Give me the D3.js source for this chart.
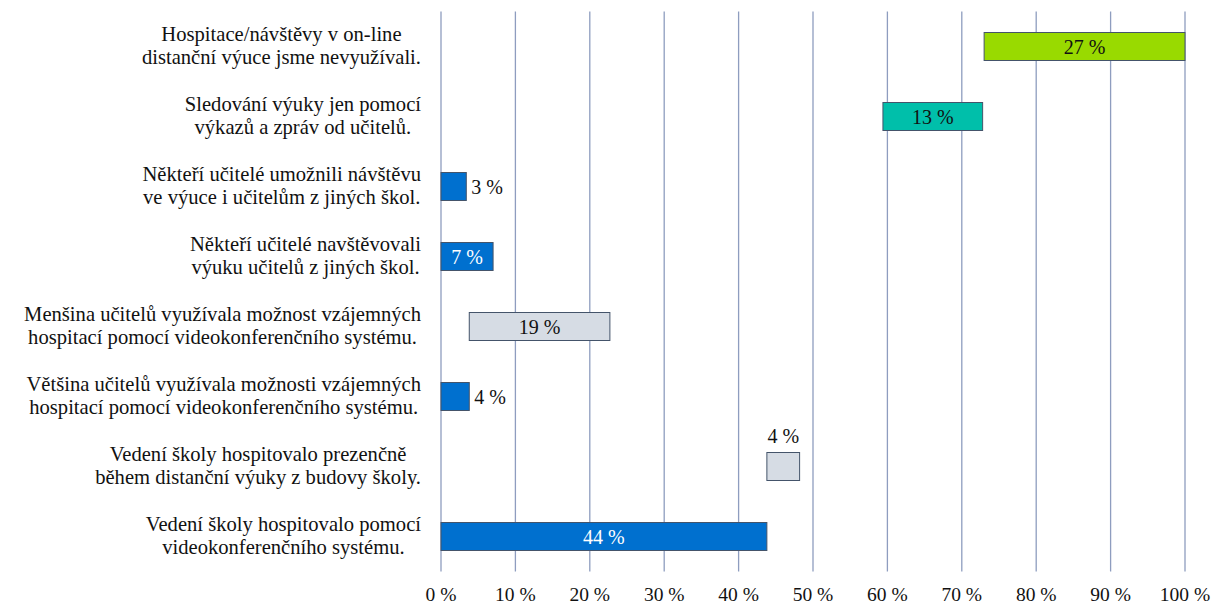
<!DOCTYPE html>
<html>
<head>
<meta charset="utf-8">
<script src="https://cdn.jsdelivr.net/npm/d3@7"></script>
<style>
  body { margin: 0; background: #fff; }
</style>
</head>
<body>
<svg id="chart" width="1219" height="604"></svg>
<script>
// categories, top to bottom
var categories = [
  ["Hospitace/návštěvy v on-line", "distanční výuce jsme nevyužívali."],
  ["Sledování výuky jen pomocí", "výkazů a zpráv od učitelů."],
  ["Někteří učitelé umožnili návštěvu", "ve výuce i učitelům z jiných škol."],
  ["Někteří učitelé navštěvovali", "výuku učitelů z jiných škol."],
  ["Menšina učitelů využívala možnost vzájemných", "hospitací pomocí videokonferenčního systému."],
  ["Většina učitelů využívala možnosti vzájemných", "hospitací pomocí videokonferenčního systému."],
  ["Vedení školy hospitovalo prezenčně", "během distanční výuky z budovy školy."],
  ["Vedení školy hospitovalo pomocí", "videokonferenčního systému."]
];
// invisible start of each bar (%), and visible part (%)
var offsets = [73, 59.4, 0, 0, 3.8, 0, 43.8, 0];
var values  = [27, 13.4, 3.4, 7, 18.9, 3.8, 4.4, 43.8];
var labels  = ["27 %", "13 %", "3 %", "7 %", "19 %", "4 %", "4 %", "44 %"];
var colors  = ["#99da00", "#00bfaa", "#0070cf", "#0070cf", "#d6dce4", "#0070cf", "#d6dce4", "#0070cf"];
var labelPos = ["in", "in", "right", "in", "in", "right", "top", "in"];
var labelColor = ["#111", "#111", "#111", "#fff", "#111", "#111", "#111", "#fff"];
var ticks = [0, 10, 20, 30, 40, 50, 60, 70, 80, 90, 100];

var FONT = "Liberation Serif";
var svg = d3.select("#chart");
var margin = {left: 441, right: 34, top: 11.5, bottom: 32.5};
var W = 1219, H = 604;

var x = d3.scaleLinear().domain([0, 100]).range([margin.left, W - margin.right]);
var y = d3.scaleBand().domain(d3.range(categories.length))
  .range([margin.top, H - margin.bottom]).paddingInner(0.6).paddingOuter(0.3);

// gridlines
svg.append('g').selectAll('line').data(ticks).enter().append('line')
  .attr('x1', function(d){ return x(d); })
  .attr('x2', function(d){ return x(d); })
  .attr('y1', margin.top)
  .attr('y2', H - margin.bottom)
  .attr('stroke', '#8e9dbf')
  .attr('stroke-width', 1.3);

// tick labels
svg.append('g').selectAll('text').data(ticks).enter().append('text')
  .attr('x', function(d){ return x(d); })
  .attr('y', 601)
  .attr('text-anchor', 'middle')
  .attr('font-family', FONT)
  .attr('font-size', 19.5)
  .attr('fill', '#111')
  .text(function(d){ return d + ' %'; });

// bars
svg.append('g').selectAll('rect').data(values).enter().append('rect')
  .attr('x', function(d, i){ return x(offsets[i]); })
  .attr('y', function(d, i){ return y(i); })
  .attr('width', function(d, i){ return x(offsets[i] + d) - x(offsets[i]); })
  .attr('height', y.bandwidth())
  .attr('fill', function(d, i){ return colors[i]; })
  .attr('stroke', '#44546a')
  .attr('stroke-width', 1);

// value labels
svg.append('g').selectAll('text').data(values).enter().append('text')
  .attr('x', function(d, i){
    if (labelPos[i] === 'right') return x(offsets[i] + d) + 5;
    return x(offsets[i] + d / 2);
  })
  .attr('y', function(d, i){
    if (labelPos[i] === 'top') return y(i) - 10;
    return y(i) + y.bandwidth() / 2 + 7;
  })
  .attr('text-anchor', function(d, i){ return labelPos[i] === 'right' ? 'start' : 'middle'; })
  .attr('font-family', FONT)
  .attr('font-size', 20)
  .attr('fill', function(d, i){ return labelColor[i]; })
  .text(function(d, i){ return labels[i]; });

// category labels: one text per category, lines centred within a right-aligned block
var catG = svg.append('g');
categories.forEach(function(lines, i){
  var cy = y(i) + y.bandwidth() / 2;
  var t = catG.append('text')
    .attr('font-family', FONT)
    .attr('font-size', 20.6)
    .attr('fill', '#111')
    .attr('text-anchor', 'middle');
  var spans = lines.map(function(s, k){
    return t.append('tspan').attr('y', cy - 5.8 + k * 23).text(s);
  });
  var maxW = d3.max(spans, function(sp){ return sp.node().getComputedTextLength(); });
  spans.forEach(function(sp){ sp.attr('x', 421 - maxW / 2); });
});
</script>
</body>
</html>
